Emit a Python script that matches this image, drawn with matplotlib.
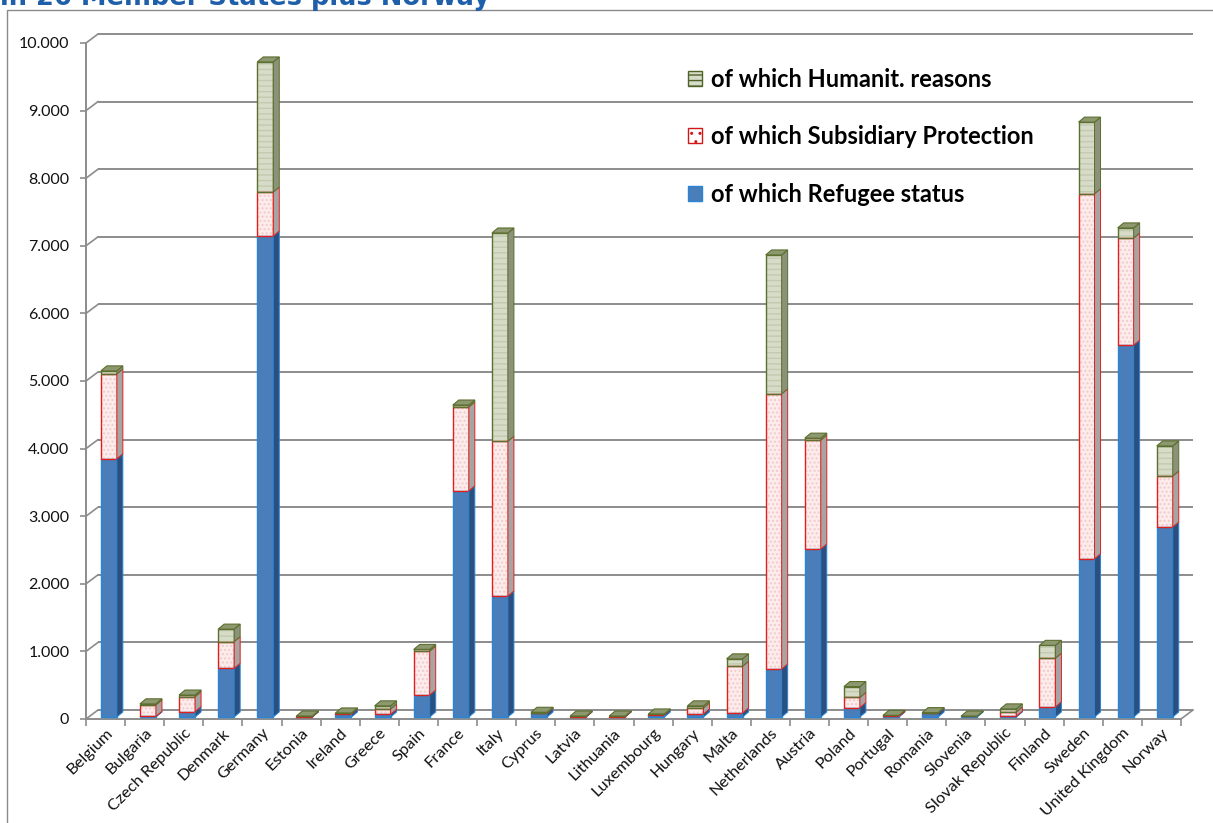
import numpy as np
import matplotlib
matplotlib.use('Agg')
import matplotlib.pyplot as plt
from matplotlib.patches import Patch, Polygon
from matplotlib.lines import Line2D
from matplotlib.transforms import offset_copy

# data
countries = ['Belgium', 'Bulgaria', 'Czech Republic', 'Denmark', 'Germany', 'Estonia',
             'Ireland', 'Greece', 'Spain', 'France', 'Italy', 'Cyprus', 'Latvia',
             'Lithuania', 'Luxembourg', 'Hungary', 'Malta', 'Netherlands', 'Austria',
             'Poland', 'Portugal', 'Romania', 'Slovenia', 'Slovak Republic', 'Finland',
             'Sweden', 'United Kingdom', 'Norway']
refugee = [3820, 10, 80, 720, 7115, 5, 45, 40, 325, 3345, 1790, 55, 5,
           5, 35, 45, 60, 710, 2485, 140, 10, 55, 10, 10, 150, 2340, 5500, 2810]
subsidiary = [1255, 170, 220, 395, 650, 5, 10, 80, 650, 1240, 2290, 5, 5,
              5, 5, 90, 690, 4070, 1610, 150, 15, 5, 0, 65, 720, 5400, 1585, 755]
humanit = [45, 15, 25, 185, 1925, 5, 5, 45, 25, 30, 3080, 10, 5,
           5, 5, 30, 110, 2055, 30, 160, 0, 5, 5, 45, 190, 1060, 150, 445]
series_labels = ['of which Refugee status', 'of which Subsidiary Protection',
                 'of which Humanit. reasons']
yticks = np.arange(0, 10001, 1000)

plt.rcParams['font.family'] = ['Lato', 'DejaVu Sans']

W, H = 1213, 823
fig = plt.figure(figsize=(W / 100, H / 100), dpi=100)

# front plane of the 3D box in pixels
x0, x1, y0, y1 = 86, 1181, 719, 43
ax = fig.add_axes([x0 / W, 1 - y0 / H, (x1 - x0) / W, (y0 - y1) / H])
n = len(countries)
ax.set_xlim(-0.5, n - 0.5)
ax.set_ylim(0, 10000)

px_x = (x1 - x0) / n
px_y = (y0 - y1) / 10000


def ux(p):
    return p / px_x


def uy(p):
    return p / px_y


grid_c = '#8c8c8c'
bx, by = ux(12), uy(9)

# back wall gridlines + diagonals from front ticks
for v in yticks:
    ax.plot([-0.5 + bx, n - 0.5 + bx], [v + by, v + by], color=grid_c, lw=1.4,
            clip_on=False, zorder=0.5, solid_capstyle='butt')
    ax.plot([-0.5, -0.5 + bx], [v, v + by], color=grid_c, lw=1.2,
            clip_on=False, zorder=0.5)
ax.plot([n - 0.5, n - 0.5 + bx], [0, by], color=grid_c, lw=1.2, clip_on=False, zorder=0.5)

# stacked pseudo-3D bars
x = np.arange(n)
refugee = np.array(refugee, dtype=float)
subsidiary = np.array(subsidiary, dtype=float)
humanit = np.array(humanit, dtype=float)
b1 = refugee
b2 = refugee + subsidiary
tot = b2 + humanit

trans = offset_copy(ax.transData, fig=fig, x=3.3, y=2, units='dots')
w = ux(16)
dx, dy = ux(6), uy(5)

styles = [
    # values, bottoms, face, edge, side, hatch, hatch colour
    (refugee, np.zeros(n), '#4a7ebb', '#2a86d4', '#2b4f7e', None, None),
    (subsidiary, b1, '#fcecec', '#e0201b', '#a8a4a4', '....', '#f4caca'),
    (humanit, b2, '#d6dcc7', '#5b6f2e', '#8b9279', '---', '#c3cab0'),
]

for vals, bot, face, edge, side, hatch, hcol in styles:
    ax.bar(x, vals, w, bottom=bot, color=face, lw=0, transform=trans, zorder=3)
    if hatch:
        ax.bar(x, vals, w, bottom=bot, facecolor='none', edgecolor=hcol, lw=0,
               hatch=hatch, transform=trans, zorder=3.1)
    ax.bar(x, vals, w, bottom=bot, fill=False, edgecolor=edge, lw=1.0,
           transform=trans, zorder=3.2)
    for i in range(n):
        xr = x[i] + w / 2
        b, t = bot[i], bot[i] + vals[i]
        if vals[i] > 0:
            ax.add_patch(Polygon([(xr, b), (xr + dx, b + dy), (xr + dx, t + dy), (xr, t)],
                                 closed=True, facecolor=side, edgecolor=edge, lw=0.7,
                                 transform=trans, zorder=3.3))

# top faces (top series colour)
for i in range(n):
    xl, xr, t = x[i] - w / 2, x[i] + w / 2, tot[i]
    ax.add_patch(Polygon([(xl, t), (xl + dx, t + dy), (xr + dx, t + dy), (xr, t)],
                         closed=True, facecolor='#8d9870', edgecolor='#5b6f2e', lw=0.8,
                         transform=trans, zorder=3.4))

# axes styling
for s in ['top', 'right']:
    ax.spines[s].set_visible(False)
for s in ['left', 'bottom']:
    ax.spines[s].set_color(grid_c)
    ax.spines[s].set_linewidth(1.4)

ax.set_yticks(yticks)
ax.set_yticklabels([f'{v:,.0f}'.replace(',', '.') for v in yticks])
ax.tick_params(axis='y', length=4, width=1.2, color=grid_c, pad=8, labelsize=11.5,
               labelcolor='#111111')

ax.set_xticks(x)
ax.set_xticklabels(countries, rotation=45, ha='right', va='top', rotation_mode='anchor')
ax.set_xticks(np.arange(-0.5, n), minor=True)
ax.tick_params(axis='x', which='major', length=0, pad=5, labelsize=11.8, labelcolor='#111111')
ax.tick_params(axis='x', which='minor', length=5, width=1.2, color=grid_c)

# legend
handles = [
    Patch(facecolor='#4a7ebb', edgecolor='#2a86d4', lw=1.0),
    Patch(facecolor='white', edgecolor='#d01818', hatch='..', lw=1.0),
    Patch(facecolor='#d6dcc7', edgecolor='#4f6228', hatch='---', lw=1.0),
]
ax.legend(handles[::-1], series_labels[::-1], loc='upper left',
          bbox_to_anchor=(676 / W, 1 - 56 / H), bbox_transform=fig.transFigure,
          frameon=False, borderpad=0, handlelength=0.6, handleheight=0.6,
          handletextpad=0.4, labelspacing=1.46, prop=dict(weight='bold', size=17))

# chart area border and clipped heading
fig.add_artist(Line2D([7 / W, 7 / W, 1], [0, 1 - 10 / H, 1 - 10 / H],
                      transform=fig.transFigure, color='#8a8a8a', lw=1))
fig.text(0, 1 - 5 / H, 'in 26 Member States plus Norway', color='#1f5faa',
         fontsize=18.5, weight='bold', family='DejaVu Sans', va='baseline', ha='left')

fig.savefig('out.png', dpi=100)
